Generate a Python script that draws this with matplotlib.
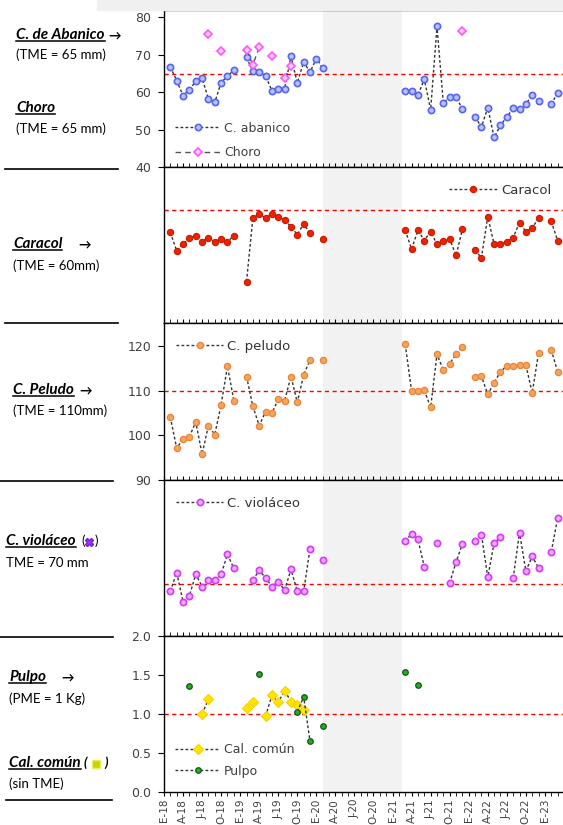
import matplotlib
matplotlib.use("Agg")
import matplotlib.pyplot as plt
from matplotlib.lines import Line2D
from matplotlib.patches import Rectangle
import numpy as np

# ---- data (month index: 1 = first sampled month, E-18 tick at 0) ----
abanico_months = list(range(1, 12)) + list(range(13, 26)) + list(range(38, 48)) + list(range(49, 60)) + [61, 62]
abanico_vals = [66.8, 63.1, 59.1, 60.7, 62.9, 63.8, 58.2, 57.3, 62.6, 64.3, 65.9,
                69.3, 65.6, 65.4, 64.4, 60.4, 61.0, 61.0, 69.6, 62.5, 68.1, 65.4, 69.0, 66.5,
                60.4, 60.4, 59.2, 63.5, 55.3, 77.6, 57.1, 58.8, 58.7, 55.6,
                53.4, 50.7, 55.9, 47.9, 51.2, 53.3, 55.8, 55.5, 56.8, 59.3, 57.7,
                56.8, 59.8]

choro_months = [7, 9, 13, 14, 15, 17, 19, 20, 47]
choro_vals = [75.7, 71.1, 71.2, 67.3, 72.1, 69.6, 63.8, 67.1, 76.3]

caracol_months = list(range(1, 12)) + list(range(13, 24)) + [25] + list(range(38, 48)) + list(range(49, 60)) + [61, 62]
caracol_vals = [54.7, 50.4, 52.0, 53.3, 53.9, 52.5, 53.5, 52.5, 53.1, 52.5, 53.9,
                43.2, 58.1, 58.9, 58.1, 59.0, 58.4, 57.6, 56.0, 54.2, 56.7, 54.5,
                53.1,
                55.2, 50.8, 55.2, 52.8, 54.9, 51.9, 52.8, 53.2, 49.3, 55.4,
                50.6, 48.7, 58.4, 51.9, 51.9, 52.5, 53.5, 57.0, 54.9, 55.7, 58.1,
                57.3, 52.8]

peludo_months = caracol_months
peludo_vals = [104.1, 97.1, 99.3, 99.7, 103.0, 95.8, 102.2, 100.2, 106.9, 115.5, 107.8,
               113.2, 106.5, 102.2, 105.3, 105.0, 108.1, 107.8, 113.2, 107.4, 113.6, 116.9,
               116.9,
               120.4, 109.9, 109.9, 110.1, 106.3, 118.2, 114.6, 116.1, 118.2, 119.9,
               113.0, 113.3, 109.2, 111.8, 114.3, 115.6, 115.6, 115.8, 115.8, 109.5, 118.5,
               119.2, 114.3]

violaceo_months = (list(range(1, 12)) + list(range(14, 24)) + [25] + [38, 39, 40, 41, 43, 45, 46, 47]
                   + [49, 50, 51, 52, 53] + [55, 56, 57, 58, 59] + [61, 62])
violaceo_vals = [68.6, 72.2, 66.6, 67.7, 71.9, 69.5, 70.8, 70.8, 71.9, 75.7, 73.0,
                 70.8, 72.6, 71.2, 69.5, 70.4, 68.8, 72.8, 68.6, 68.6, 76.8,
                 74.6,
                 78.2, 79.7, 78.6, 73.3, 77.9, 70.2, 74.2, 77.7,
                 78.2, 79.5, 71.3, 77.9, 79.0,
                 71.1, 79.9, 72.5, 75.3, 73.1,
                 76.2, 82.6]

calcomun_months = [6, 7, 13, 14, 16, 17, 18, 19, 20, 21, 22]
calcomun_vals = [1.00, 1.19, 1.08, 1.15, 0.97, 1.24, 1.15, 1.30, 1.16, 1.11, 1.05]

pulpo_months = [4, 15, 21, 22, 23, 25, 38, 40]
pulpo_vals = [1.36, 1.51, 1.03, 1.22, 0.65, 0.84, 1.54, 1.37]

month_letters = ["E", "A", "J", "O"]
years = ["18", "19", "20", "21", "22", "23"]
tick_labels = [f"{month_letters[i % 4]}-{years[i // 4]}" for i in range(21)]


def series(months, vals, n=62):
    x = np.arange(1, n + 1)
    y = np.full(n, np.nan)
    for m, v in zip(months, vals):
        y[m - 1] = v
    return x, y


W, H = 563, 825
fig = plt.figure(figsize=(W / 100, H / 100), dpi=100)
fig.patches.append(Rectangle((97 / W, 1 - 10 / H), 1, 10 / H, transform=fig.transFigure,
                             color="#f0f0f0", zorder=0))

# panel tops / bottoms in pixels
panels = [(10, 167), (167, 323), (323, 480), (480, 636), (636, 792)]
left = 164 / W
axes = []
for top, bot in panels:
    ax = fig.add_axes([left, 1 - bot / H, 1 - left, (bot - top) / H])
    axes.append(ax)

tick_col = "#404040"
line_kw = dict(color="#333333", lw=1.0, linestyle=(0, (2, 1.6)))

ylims = [(40, 82), (33.5, 70), (90, 125.2), (60, 90), (0, 2.0)]
tme = [65, 60, 110, 70, 1.0]

for i, ax in enumerate(axes):
    ax.set_xlim(0, 62.85)
    ax.set_ylim(*ylims[i])
    ax.axvspan(25.05, 37.5, color="#f2f2f2", zorder=0, lw=0)
    ax.axhline(tme[i], color="red", lw=1.0, linestyle=(0, (3, 2.5)), zorder=1)
    ax.spines["right"].set_visible(False)
    for s in ["left", "bottom", "top"]:
        ax.spines[s].set_color("black")
        ax.spines[s].set_linewidth(1.0)
    ax.set_xticks(np.arange(0, 61, 3))
    ax.set_xticks(np.arange(0, 63, 1), minor=True)
    if i < 4:
        ax.tick_params(axis="x", which="both", direction="in", length=3, labelbottom=False)
    else:
        ax.tick_params(axis="x", which="both", direction="out", length=3, pad=2)
        ax.set_xticklabels(tick_labels, rotation=90, fontsize=7.5, color=tick_col)
    ax.tick_params(axis="y", direction="out", length=4, labelsize=9, labelcolor=tick_col, pad=5)

# panel 1
ax = axes[0]
ax.set_yticks([40, 50, 60, 70, 80])
x, y = series(abanico_months, abanico_vals)
ax.plot(x, y, marker="o", ms=4.5, mfc="#b9c2ff", mec="#5566ee", mew=1.2, label="C. abanico", zorder=3, **line_kw)
x, y = series(choro_months, choro_vals)
ax.plot(x, y, marker="D", ms=4.5, mfc="#ffd0ff", mec="#ff55ff", mew=1.2, color="#555555", lw=1.0,
        linestyle=(0, (4, 3)), label="Choro", zorder=4)
ax.legend(loc="lower left", bbox_to_anchor=(0.0, -0.02), frameon=False, fontsize=9, labelcolor=tick_col,
          handlelength=3.6, handletextpad=0.3, labelspacing=0.9, numpoints=1)

# panel 2
ax = axes[1]
ax.set_yticks([])
x, y = series(caracol_months, caracol_vals)
ax.plot(x, y, marker="o", ms=4.5, mfc="#ee2200", mec="#cc1800", mew=0.8, label="Caracol", zorder=3, **line_kw)
ax.legend(loc="upper right", bbox_to_anchor=(1.0, 0.97), frameon=False, fontsize=9.5, labelcolor="#333333",
          handlelength=3.6, handletextpad=0.3, numpoints=1)

# panel 3
ax = axes[2]
ax.set_yticks([90, 100, 110, 120])
x, y = series(peludo_months, peludo_vals)
ax.plot(x, y, marker="o", ms=4.5, mfc="#f5a45a", mec="#e8853a", mew=0.9, label="C. peludo", zorder=3, **line_kw)
ax.legend(loc="upper left", bbox_to_anchor=(0.0, 0.97), frameon=False, fontsize=9.5, labelcolor="#333333",
          handlelength=3.6, handletextpad=0.3, numpoints=1)

# panel 4
ax = axes[3]
ax.set_yticks([])
x, y = series(violaceo_months, violaceo_vals)
ax.plot(x, y, marker="o", ms=4.5, mfc="#f3a8ff", mec="#d23cf5", mew=1.2, label="C. violáceo", zorder=3, **line_kw)
ax.legend(loc="upper left", bbox_to_anchor=(0.0, 0.97), frameon=False, fontsize=9.5, labelcolor="#333333",
          handlelength=3.6, handletextpad=0.3, numpoints=1)

# panel 5
ax = axes[4]
ax.set_yticks([0.0, 0.5, 1.0, 1.5, 2.0])
ax.set_yticklabels(["0.0", "0.5", "1.0", "1.5", "2.0"])
x, y = series(calcomun_months, calcomun_vals)
ax.plot(x, y, marker="D", ms=5, mfc="#ffe400", mec="#f5d000", mew=0.8, label="Cal. común", zorder=3, **line_kw)
x, y = series(pulpo_months, pulpo_vals)
ax.plot(x, y, marker="o", ms=4, mfc="#11bb11", mec="#1f4f1f", mew=0.9, label="Pulpo", zorder=4, **line_kw)
ax.legend(loc="lower left", bbox_to_anchor=(0.0, 0.02), frameon=False, fontsize=9, labelcolor=tick_col,
          handlelength=3.6, handletextpad=0.3, labelspacing=0.7, numpoints=1)

# ---- left-hand notes ----
fam = ["Lato", "DejaVu Sans"]


def px(xp, yp):
    return xp / W, 1 - yp / H


titles = []


def note(xp, yp, s, bold=False, under=False, size=9.5, color="black"):
    t = fig.text(*px(xp, yp), s, family=fam, fontsize=size, va="center", ha="left",
                 fontweight="bold" if bold else "normal", fontstyle="italic" if bold else "normal",
                 color=color)
    if under:
        titles.append(t)
    return t


ts = 11
note(16, 35, "C. de Abanico", bold=True, under=True, size=ts)
note(108, 35, "→", bold=True, size=9)
note(16, 55, "(TME = 65 mm)")
note(16, 108, "Choro", bold=True, under=True, size=ts)
note(16, 129, "(TME = 65 mm)")
note(13, 244, "Caracol", bold=True, under=True, size=ts)
note(78, 244, "→", bold=True, size=9)
note(13, 266, "(TME = 60mm)")
note(13, 390, "C. Peludo", bold=True, under=True, size=ts)
note(79, 390, "→", bold=True, size=9)
note(13, 411, "(TME = 110mm)")
note(6, 541, "C. violáceo", bold=True, under=True, size=ts)
note(81, 541, "(")
note(95, 541, ")")
note(6, 563, "TME = 70 mm")
note(9, 677, "Pulpo", bold=True, under=True, size=ts)
note(61, 677, "→", bold=True, size=9)
note(9, 699, "(PME = 1 Kg)")
note(9, 763, "Cal. común", bold=True, under=True, size=ts)
note(84, 763, "(", bold=True)
note(104, 763, ")", bold=True)
note(9, 784, "(sin TME)")

# symbols inside brackets
fig.add_artist(Line2D([89.5 / W], [1 - 542 / H], marker="X", ms=5.5, color="#9b30ff", mec="#7a20e0",
                      transform=fig.transFigure))
fig.add_artist(Line2D([96 / W], [1 - 764 / H], marker="s", ms=5.5, mfc="#c8d400", mec="#e8f060",
                      transform=fig.transFigure))

# separators
for yp, x0, x1 in [(168.5, 5, 118), (323, 5, 118), (480.5, 0, 113), (636.7, 0, 113), (800, 6, 112)]:
    fig.add_artist(Line2D([x0 / W, x1 / W], [1 - yp / H, 1 - yp / H], color="black", lw=1.2,
                          transform=fig.transFigure))

# underline the species names
fig.canvas.draw()
r = fig.canvas.get_renderer()
inv = fig.transFigure.inverted()
for t in titles:
    bb = t.get_window_extent(r)
    (a0, b0), (a1, b1) = inv.transform([(bb.x0, bb.y0 + 1.5), (bb.x1, bb.y0 + 1.5)])
    fig.add_artist(Line2D([a0, a1], [b0, b1], color="black", lw=1.1, transform=fig.transFigure))

fig.savefig("out.png", dpi=100)
